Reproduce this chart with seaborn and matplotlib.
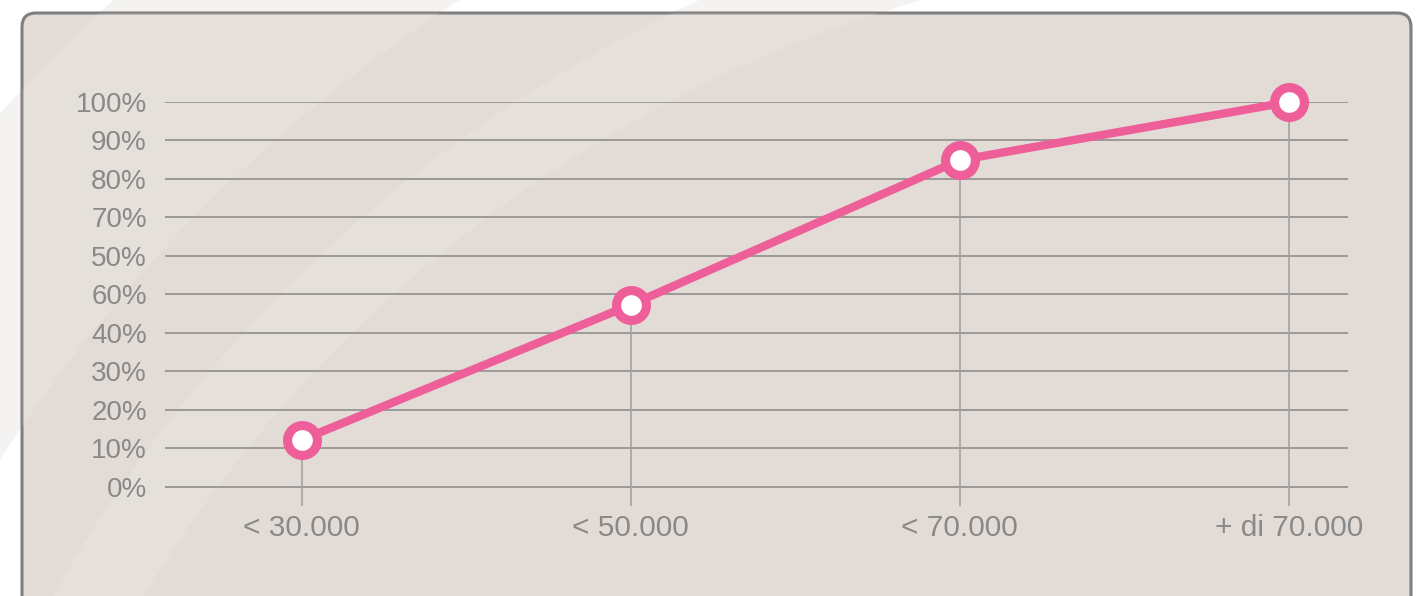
import matplotlib
matplotlib.use("Agg")
import matplotlib.pyplot as plt
import seaborn as sns
from matplotlib.patches import FancyBboxPatch, Wedge

categories = ["< 30.000", "< 50.000", "< 70.000", "+ di 70.000"]
values = [12.2, 47.3, 84.9, 100.0]
ytick_values = [0, 10, 20, 30, 40, 50, 60, 70, 80, 90, 100]
ytick_labels = ["0%", "10%", "20%", "30%", "40%", "60%", "50%", "70%", "80%", "90%", "100%"]

sns.set_style("white")
plt.rcParams["font.family"] = ["Liberation Sans", "DejaVu Sans"]

W, H = 1427, 596
fig = plt.figure(figsize=(W / 100, H / 100), dpi=100)
fig.patch.set_facecolor("white")

# background decoration axes (pixel coords, y downward)
bg = fig.add_axes([0, 0, 1, 1])
bg.set_xlim(0, W)
bg.set_ylim(H, 0)
bg.axis("off")
cx, cy = 1300, 1300
bands = [(1548, 1760), (1354, 1432)]
for r_in, r_out in bands:
    bg.add_patch(Wedge((cx, cy), r_out, 0, 360, width=r_out - r_in,
                       facecolor="#f5f3f1", edgecolor="none", zorder=0))
box = FancyBboxPatch((22, 13), 1389, 640, boxstyle="round,pad=0,rounding_size=14",
                     facecolor="#e3dcd6", edgecolor="#7f7f7f", linewidth=2.2, zorder=1)
bg.add_patch(box)
for r_in, r_out in bands:
    w = Wedge((cx, cy), r_out, 0, 360, width=r_out - r_in,
              facecolor="white", alpha=0.14, edgecolor="none", zorder=2)
    w.set_clip_path(box)
    bg.add_patch(w)

ax = fig.add_axes([165 / W, 1 - 506 / H, (1348 - 165) / W, (506 - 102) / H])
ax.set_facecolor("none")

for v in ytick_values:
    ax.axhline(v, color="#8e8e8e", linewidth=1.2, zorder=1)

ax.vlines(x=categories, ymin=-5, ymax=values, color="#a3a3a3", linewidth=1.2, zorder=1)

sns.lineplot(x=categories, y=values, ax=ax, sort=False, color="#ee5f99",
             linewidth=6, marker="o", markersize=21.5, markerfacecolor="white",
             markeredgecolor="#ee5f99", markeredgewidth=6.6, zorder=3, clip_on=False)

ax.set_xlim(-0.416, 3.18)
ax.set_ylim(-5, 100)
ax.set_yticks(ytick_values)
ax.set_yticklabels(ytick_labels)
ax.tick_params(axis="y", length=0, pad=13, labelsize=20, labelcolor="#898989")
ax.tick_params(axis="x", length=0, pad=6, labelsize=21.5, labelcolor="#898989")
ax.set_xlabel("")
ax.set_ylabel("")
for s in ax.spines.values():
    s.set_visible(False)

fig.savefig("out.png", dpi=100, facecolor=fig.get_facecolor())
